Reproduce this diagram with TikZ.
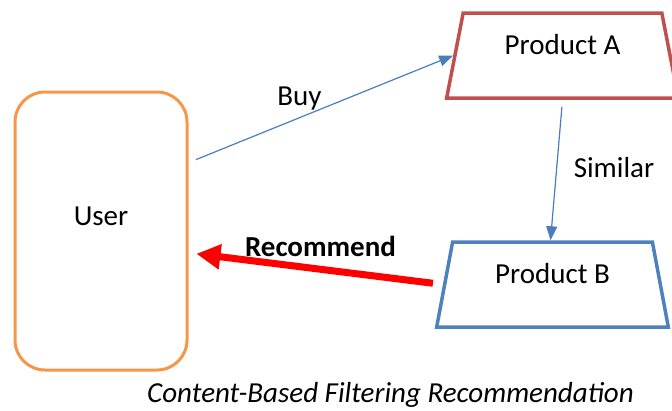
\documentclass[tikz,border=0pt]{standalone}
\usepackage{fontspec}
\setmainfont{Carlito}
\usetikzlibrary{shapes.geometric,arrows.meta}
\definecolor{userorange}{HTML}{F79646}
\definecolor{prodred}{HTML}{C0504D}
\definecolor{prodblue}{HTML}{4F81BD}
\definecolor{linkblue}{HTML}{4A7EBB}
\begin{document}
\begin{tikzpicture}[x=1pt,y=-1pt,
    every node/.style={font=\fontsize{29}{34}\selectfont},
    prod/.style={trapezium, trapezium stretches=true, minimum width=232pt,
        minimum height=85pt, inner sep=0pt, line width=3.5pt,
        text height=20pt, text depth=23pt},
    link/.style={draw=linkblue, line width=1.2pt, -{Triangle[length=14pt,width=11pt]}},
    recarrow/.style={draw=red, line width=7pt, -{Triangle[length=24pt,width=24pt]}}]
    \useasboundingbox (0,0) rectangle (672,410);
    % user
    \node[draw=userorange, line width=3pt, rounded corners=30pt,
        minimum width=172pt, minimum height=278pt,
        text height=20pt, text depth=32pt] (user) at (101,231) {User};
    % products
    \node[prod, draw=prodred, trapezium angle=77.4] (prodA) at (562.5,55.5) {Product A};
    \node[prod, draw=prodblue, trapezium angle=78] (prodB) at (552.5,284.5) {Product B};
    % links
    \draw[link, shorten <=8pt] (user.38) -- (prodA.west);
    \draw[link, shorten <=7pt] (prodA.south) -- ([xshift=-2pt]prodB.north);
    \draw[recarrow, shorten <=10pt, shorten >=8pt] (prodB.west) -- (user.-14);
    % labels
    \node[anchor=base] (buy) at (299.5,105) {Buy};
    \node[anchor=base] (similar) at (614,177) {Similar};
    \node[anchor=base] (recommend) at (320.5,256) {\textbf{Recommend}};
    \node[anchor=base] (caption) at (390.5,402) {\itshape Content-Based Filtering Recommendation};
\end{tikzpicture}
\end{document}
